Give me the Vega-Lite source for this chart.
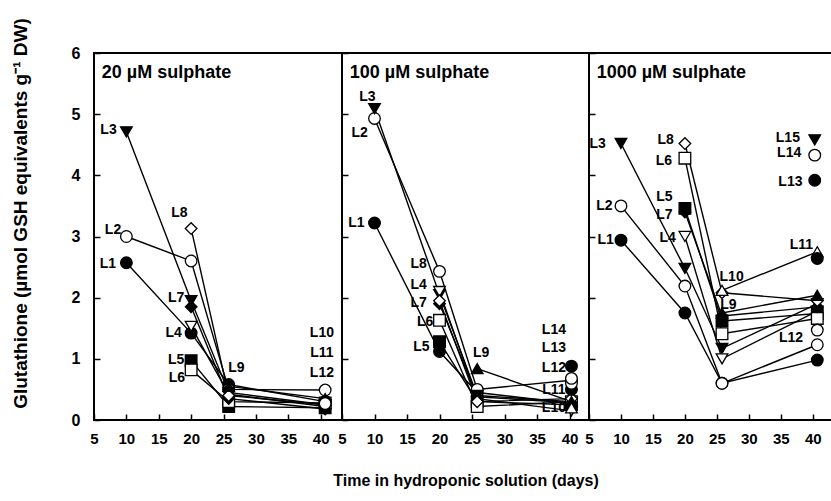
{
  "$schema": "https://vega.github.io/schema/vega-lite/v6.json",
  "padding": {"left": 9, "top": 16, "right": 0, "bottom": 0},
  "background": "white",
  "spacing": 0,
  "bounds": "flush",
  "config": {
    "view": {"stroke": "black", "strokeWidth": 2},
    "font": "Liberation Sans",
    "axis": {
      "domain": false, "grid": false, "tickColor": "black", "tickWidth": 1.5, "tickSize": -6, "tickCount": 12,
      "labelColor": "black", "labelFont": "Liberation Sans", "labelFontWeight": "bold",
      "labelFlush": false, "labelOverlap": false, "labelBound": false, "format": "d",
      "titleFont": "Liberation Sans", "titleFontWeight": "bold", "titleColor": "black"
    }
  },
  "datasets": {
    "points": [
      {"p": "20", "leaf": "L1", "day": 10, "v": 2.57}, {"p": "20", "leaf": "L1", "day": 20, "v": 1.42}, {"p": "20", "leaf": "L1", "day": 25.8, "v": 0.58}, {"p": "20", "leaf": "L1", "day": 40.7, "v": 0.3},
      {"p": "20", "leaf": "L2", "day": 10, "v": 3.0}, {"p": "20", "leaf": "L2", "day": 20, "v": 2.6}, {"p": "20", "leaf": "L2", "day": 25.8, "v": 0.5}, {"p": "20", "leaf": "L2", "day": 40.7, "v": 0.49},
      {"p": "20", "leaf": "L3", "day": 10, "v": 4.71}, {"p": "20", "leaf": "L3", "day": 20, "v": 1.95}, {"p": "20", "leaf": "L3", "day": 25.8, "v": 0.45}, {"p": "20", "leaf": "L3", "day": 40.7, "v": 0.25},
      {"p": "20", "leaf": "L4", "day": 20, "v": 1.53}, {"p": "20", "leaf": "L4", "day": 25.8, "v": 0.42}, {"p": "20", "leaf": "L4", "day": 40.7, "v": 0.22},
      {"p": "20", "leaf": "L5", "day": 20, "v": 0.97}, {"p": "20", "leaf": "L5", "day": 25.8, "v": 0.22}, {"p": "20", "leaf": "L5", "day": 40.7, "v": 0.2},
      {"p": "20", "leaf": "L6", "day": 20, "v": 0.82}, {"p": "20", "leaf": "L6", "day": 25.8, "v": 0.3}, {"p": "20", "leaf": "L6", "day": 40.7, "v": 0.28},
      {"p": "20", "leaf": "L7", "day": 20, "v": 1.85}, {"p": "20", "leaf": "L7", "day": 25.8, "v": 0.35}, {"p": "20", "leaf": "L7", "day": 40.7, "v": 0.18},
      {"p": "20", "leaf": "L8", "day": 20, "v": 3.13}, {"p": "20", "leaf": "L8", "day": 25.8, "v": 0.4}, {"p": "20", "leaf": "L8", "day": 40.7, "v": 0.25},
      {"p": "20", "leaf": "L9", "day": 25.8, "v": 0.55}, {"p": "20", "leaf": "L9", "day": 40.7, "v": 0.35},
      {"p": "20", "leaf": "L10", "day": 40.7, "v": 0.32}, {"p": "20", "leaf": "L11", "day": 40.7, "v": 0.3}, {"p": "20", "leaf": "L12", "day": 40.7, "v": 0.27},

      {"p": "100", "leaf": "L1", "day": 10, "v": 3.22}, {"p": "100", "leaf": "L1", "day": 20, "v": 1.12}, {"p": "100", "leaf": "L1", "day": 25.8, "v": 0.45}, {"p": "100", "leaf": "L1", "day": 40.3, "v": 0.27},
      {"p": "100", "leaf": "L2", "day": 10, "v": 4.93}, {"p": "100", "leaf": "L2", "day": 20, "v": 2.43}, {"p": "100", "leaf": "L2", "day": 25.8, "v": 0.5}, {"p": "100", "leaf": "L2", "day": 40.3, "v": 0.65},
      {"p": "100", "leaf": "L3", "day": 10, "v": 5.09}, {"p": "100", "leaf": "L3", "day": 20, "v": 2.05}, {"p": "100", "leaf": "L3", "day": 25.8, "v": 0.4}, {"p": "100", "leaf": "L3", "day": 40.3, "v": 0.3},
      {"p": "100", "leaf": "L4", "day": 20, "v": 2.1}, {"p": "100", "leaf": "L4", "day": 25.8, "v": 0.35}, {"p": "100", "leaf": "L4", "day": 40.3, "v": 0.15},
      {"p": "100", "leaf": "L5", "day": 20, "v": 1.28}, {"p": "100", "leaf": "L5", "day": 25.8, "v": 0.3}, {"p": "100", "leaf": "L5", "day": 40.3, "v": 0.25},
      {"p": "100", "leaf": "L6", "day": 20, "v": 1.63}, {"p": "100", "leaf": "L6", "day": 25.8, "v": 0.22}, {"p": "100", "leaf": "L6", "day": 40.3, "v": 0.3},
      {"p": "100", "leaf": "L7", "day": 20, "v": 1.9}, {"p": "100", "leaf": "L7", "day": 25.8, "v": 0.38}, {"p": "100", "leaf": "L7", "day": 40.3, "v": 0.28},
      {"p": "100", "leaf": "L8", "day": 20, "v": 1.95}, {"p": "100", "leaf": "L8", "day": 25.8, "v": 0.3}, {"p": "100", "leaf": "L8", "day": 40.3, "v": 0.35},
      {"p": "100", "leaf": "L9", "day": 25.8, "v": 0.84}, {"p": "100", "leaf": "L9", "day": 40.3, "v": 0.3},
      {"p": "100", "leaf": "L10", "day": 40.3, "v": 0.2}, {"p": "100", "leaf": "L11", "day": 40.3, "v": 0.5}, {"p": "100", "leaf": "L12", "day": 40.3, "v": 0.6}, {"p": "100", "leaf": "L13", "day": 40.3, "v": 0.88}, {"p": "100", "leaf": "L14", "day": 40.3, "v": 0.68},

      {"p": "1000", "leaf": "L1", "day": 10, "v": 2.94}, {"p": "1000", "leaf": "L1", "day": 20, "v": 1.75}, {"p": "1000", "leaf": "L1", "day": 25.8, "v": 0.6}, {"p": "1000", "leaf": "L1", "day": 40.7, "v": 0.98},
      {"p": "1000", "leaf": "L2", "day": 10, "v": 3.5}, {"p": "1000", "leaf": "L2", "day": 20, "v": 2.19}, {"p": "1000", "leaf": "L2", "day": 25.8, "v": 0.6}, {"p": "1000", "leaf": "L2", "day": 40.7, "v": 1.23},
      {"p": "1000", "leaf": "L3", "day": 10, "v": 4.52}, {"p": "1000", "leaf": "L3", "day": 20, "v": 2.48}, {"p": "1000", "leaf": "L3", "day": 25.8, "v": 1.17}, {"p": "1000", "leaf": "L3", "day": 40.7, "v": 1.9},
      {"p": "1000", "leaf": "L4", "day": 20, "v": 3.0}, {"p": "1000", "leaf": "L4", "day": 25.8, "v": 1.0}, {"p": "1000", "leaf": "L4", "day": 40.7, "v": 1.78},
      {"p": "1000", "leaf": "L5", "day": 20, "v": 3.46}, {"p": "1000", "leaf": "L5", "day": 25.8, "v": 1.62}, {"p": "1000", "leaf": "L5", "day": 40.7, "v": 1.74},
      {"p": "1000", "leaf": "L6", "day": 20, "v": 4.28}, {"p": "1000", "leaf": "L6", "day": 25.8, "v": 1.41}, {"p": "1000", "leaf": "L6", "day": 40.7, "v": 1.66},
      {"p": "1000", "leaf": "L7", "day": 20, "v": 3.4}, {"p": "1000", "leaf": "L7", "day": 25.8, "v": 1.7}, {"p": "1000", "leaf": "L7", "day": 40.7, "v": 1.85},
      {"p": "1000", "leaf": "L8", "day": 20, "v": 4.52}, {"p": "1000", "leaf": "L8", "day": 25.8, "v": 2.08}, {"p": "1000", "leaf": "L8", "day": 40.7, "v": 1.95},
      {"p": "1000", "leaf": "L9", "day": 25.8, "v": 1.75}, {"p": "1000", "leaf": "L9", "day": 40.7, "v": 2.04},
      {"p": "1000", "leaf": "L10", "day": 25.8, "v": 2.12}, {"p": "1000", "leaf": "L10", "day": 40.7, "v": 2.75},
      {"p": "1000", "leaf": "L11", "day": 40.7, "v": 2.64}, {"p": "1000", "leaf": "L12", "day": 40.7, "v": 1.47},
      {"p": "1000", "leaf": "L13", "day": 40.3, "v": 3.92}, {"p": "1000", "leaf": "L14", "day": 40.3, "v": 4.33}, {"p": "1000", "leaf": "L15", "day": 40.3, "v": 4.58}
    ],
    "labels": [
      {"p": "20", "t": "L3", "x": 7.24, "y": 4.74}, {"p": "20", "t": "L2", "x": 7.94, "y": 3.1}, {"p": "20", "t": "L1", "x": 7.16, "y": 2.55},
      {"p": "20", "t": "L8", "x": 18.2, "y": 3.38}, {"p": "20", "t": "L7", "x": 17.7, "y": 1.99}, {"p": "20", "t": "L4", "x": 17.3, "y": 1.42},
      {"p": "20", "t": "L5", "x": 17.7, "y": 0.98}, {"p": "20", "t": "L6", "x": 17.8, "y": 0.69}, {"p": "20", "t": "L9", "x": 27.0, "y": 0.85},
      {"p": "20", "t": "L10", "x": 40.2, "y": 1.42}, {"p": "20", "t": "L11", "x": 40.2, "y": 1.09}, {"p": "20", "t": "L12", "x": 40.2, "y": 0.77},
      {"p": "100", "t": "L3", "x": 8.9, "y": 5.28}, {"p": "100", "t": "L2", "x": 7.7, "y": 4.69}, {"p": "100", "t": "L1", "x": 7.2, "y": 3.22},
      {"p": "100", "t": "L8", "x": 16.8, "y": 2.55}, {"p": "100", "t": "L4", "x": 16.8, "y": 2.2}, {"p": "100", "t": "L7", "x": 16.8, "y": 1.91},
      {"p": "100", "t": "L6", "x": 17.8, "y": 1.61}, {"p": "100", "t": "L5", "x": 17.2, "y": 1.2}, {"p": "100", "t": "L9", "x": 26.4, "y": 1.09},
      {"p": "100", "t": "L14", "x": 37.6, "y": 1.47}, {"p": "100", "t": "L13", "x": 37.6, "y": 1.18}, {"p": "100", "t": "L12", "x": 37.6, "y": 0.85},
      {"p": "100", "t": "L11", "x": 37.6, "y": 0.49}, {"p": "100", "t": "L10", "x": 37.6, "y": 0.2},
      {"p": "1000", "t": "L3", "x": 6.36, "y": 4.52}, {"p": "1000", "t": "L2", "x": 7.4, "y": 3.5}, {"p": "1000", "t": "L1", "x": 7.6, "y": 2.94},
      {"p": "1000", "t": "L8", "x": 17.0, "y": 4.58}, {"p": "1000", "t": "L6", "x": 16.7, "y": 4.24}, {"p": "1000", "t": "L5", "x": 16.8, "y": 3.65},
      {"p": "1000", "t": "L7", "x": 16.8, "y": 3.35}, {"p": "1000", "t": "L4", "x": 17.3, "y": 2.97}, {"p": "1000", "t": "L10", "x": 27.3, "y": 2.34},
      {"p": "1000", "t": "L9", "x": 26.8, "y": 1.88}, {"p": "1000", "t": "L11", "x": 38.2, "y": 2.86}, {"p": "1000", "t": "L12", "x": 36.6, "y": 1.34},
      {"p": "1000", "t": "L15", "x": 36.1, "y": 4.61}, {"p": "1000", "t": "L14", "x": 36.3, "y": 4.36}, {"p": "1000", "t": "L13", "x": 36.5, "y": 3.89}
    ],
    "titles": [
      {"p": "20", "t": "20 µM sulphate"}, {"p": "100", "t": "100 µM sulphate"}, {"p": "1000", "t": "1000 µM sulphate"}
    ]
  },
  "hconcat": [
    {
      "width": 248, "height": 367,
      "layer": [
        {
          "data": {"name": "points"}, "transform": [{"filter": "datum.p === '20'"}],
          "mark": {"type": "line", "color": "black", "strokeWidth": 1.4},
          "encoding": {
            "x": {"field": "day", "type": "quantitative", "scale": {"domain": [5, 43.3], "nice": false},
              "axis": {"values": [5, 10, 15, 20, 25, 30, 35, 40], "tickCount": 12, "labelFontSize": 15, "labelPadding": 17, "labelOverlap": false, "title": null}},
            "y": {"field": "v", "type": "quantitative", "scale": {"domain": [0, 6], "nice": false},
              "axis": {"values": [0, 1, 2, 3, 4, 5, 6], "tickCount": 12, "labelFontSize": 16, "labelPadding": 20, "labelOverlap": false,
                "title": "Glutathione (µmol GSH equivalents g⁻¹ DW)", "titleFontSize": 19,
                "titleAngle": 270, "titleX": -74, "titleY": 160, "titleBaseline": "middle", "titleAlign": "center"}},
            "detail": {"field": "leaf"},
            "order": {"field": "day", "type": "quantitative"}
          }
        },
        {
          "data": {"name": "points"}, "transform": [{"filter": "datum.p === '20'"}],
          "mark": {"type": "point", "filled": true, "stroke": "black", "strokeWidth": 1.3, "opacity": 1, "size": 135},
          "encoding": {
            "x": {"field": "day", "type": "quantitative"},
            "y": {"field": "v", "type": "quantitative"},
            "shape": {"field": "leaf", "type": "nominal", "legend": null,
              "scale": {"domain": ["L1","L2","L3","L4","L5","L6","L7","L8","L9","L10","L11","L12","L13","L14","L15"],
                "range": ["circle","circle","triangle-down","triangle-down","square","square","diamond","diamond","triangle-up","triangle-up","circle","circle","circle","circle","triangle-down"]}},
            "fill": {"field": "leaf", "type": "nominal", "legend": null,
              "scale": {"domain": ["L1","L2","L3","L4","L5","L6","L7","L8","L9","L10","L11","L12","L13","L14","L15"],
                "range": ["black","white","black","white","black","white","black","white","black","white","black","white","black","white","black"]}}
          }
        },
        {
          "data": {"name": "labels"}, "transform": [{"filter": "datum.p === '20'"}],
          "mark": {"type": "text", "font": "Liberation Sans", "fontWeight": "bold", "fontSize": 14, "color": "black", "align": "center", "baseline": "middle"},
          "encoding": {"x": {"field": "x", "type": "quantitative"}, "y": {"field": "y", "type": "quantitative"}, "text": {"field": "t"}}
        },
        {
          "data": {"name": "titles"}, "transform": [{"filter": "datum.p === '20'"}],
          "mark": {"type": "text", "font": "Liberation Sans", "fontWeight": "bold", "fontSize": 18, "color": "black", "align": "left", "baseline": "middle"},
          "encoding": {"x": {"datum": 6.2}, "y": {"datum": 5.68}, "text": {"field": "t"}}
        }
      ]
    },
    {
      "width": 247, "height": 367,
      "layer": [
        {
          "data": {"name": "points"}, "transform": [{"filter": "datum.p === '100'"}],
          "mark": {"type": "line", "color": "black", "strokeWidth": 1.4},
          "encoding": {
            "x": {"field": "day", "type": "quantitative", "scale": {"domain": [5, 43], "nice": false},
              "axis": {"values": [5, 10, 15, 20, 25, 30, 35, 40], "tickCount": 12, "labelFontSize": 15, "labelPadding": 17, "labelOverlap": false,
                "title": "Time in hydroponic solution (days)", "titleFontSize": 16, "titlePadding": 26}},
            "y": {"field": "v", "type": "quantitative", "scale": {"domain": [0, 6], "nice": false},
              "axis": {"values": [0, 1, 2, 3, 4, 5, 6], "tickCount": 12, "labels": false, "title": null}},
            "detail": {"field": "leaf"},
            "order": {"field": "day", "type": "quantitative"}
          }
        },
        {
          "data": {"name": "points"}, "transform": [{"filter": "datum.p === '100'"}],
          "mark": {"type": "point", "filled": true, "stroke": "black", "strokeWidth": 1.3, "opacity": 1, "size": 135},
          "encoding": {
            "x": {"field": "day", "type": "quantitative"},
            "y": {"field": "v", "type": "quantitative"},
            "shape": {"field": "leaf", "type": "nominal", "legend": null,
              "scale": {"domain": ["L1","L2","L3","L4","L5","L6","L7","L8","L9","L10","L11","L12","L13","L14","L15"],
                "range": ["circle","circle","triangle-down","triangle-down","square","square","diamond","diamond","triangle-up","triangle-up","circle","circle","circle","circle","triangle-down"]}},
            "fill": {"field": "leaf", "type": "nominal", "legend": null,
              "scale": {"domain": ["L1","L2","L3","L4","L5","L6","L7","L8","L9","L10","L11","L12","L13","L14","L15"],
                "range": ["black","white","black","white","black","white","black","white","black","white","black","white","black","white","black"]}}
          }
        },
        {
          "data": {"name": "labels"}, "transform": [{"filter": "datum.p === '100'"}],
          "mark": {"type": "text", "font": "Liberation Sans", "fontWeight": "bold", "fontSize": 14, "color": "black", "align": "center", "baseline": "middle"},
          "encoding": {"x": {"field": "x", "type": "quantitative"}, "y": {"field": "y", "type": "quantitative"}, "text": {"field": "t"}}
        },
        {
          "data": {"name": "titles"}, "transform": [{"filter": "datum.p === '100'"}],
          "mark": {"type": "text", "font": "Liberation Sans", "fontWeight": "bold", "fontSize": 18, "color": "black", "align": "left", "baseline": "middle"},
          "encoding": {"x": {"datum": 6.2}, "y": {"datum": 5.68}, "text": {"field": "t"}}
        }
      ]
    },
    {
      "width": 243, "height": 367,
      "layer": [
        {
          "data": {"name": "points"}, "transform": [{"filter": "datum.p === '1000'"}],
          "mark": {"type": "line", "color": "black", "strokeWidth": 1.4},
          "encoding": {
            "x": {"field": "day", "type": "quantitative", "scale": {"domain": [5, 43], "nice": false},
              "axis": {"values": [5, 10, 15, 20, 25, 30, 35, 40], "tickCount": 12, "labelFontSize": 15, "labelPadding": 17, "labelOverlap": false, "title": null}},
            "y": {"field": "v", "type": "quantitative", "scale": {"domain": [0, 6], "nice": false},
              "axis": {"values": [0, 1, 2, 3, 4, 5, 6], "tickCount": 12, "labels": false, "title": null}},
            "detail": {"field": "leaf"},
            "order": {"field": "day", "type": "quantitative"}
          }
        },
        {
          "data": {"name": "points"}, "transform": [{"filter": "datum.p === '1000'"}],
          "mark": {"type": "point", "filled": true, "stroke": "black", "strokeWidth": 1.3, "opacity": 1, "size": 135},
          "encoding": {
            "x": {"field": "day", "type": "quantitative"},
            "y": {"field": "v", "type": "quantitative"},
            "shape": {"field": "leaf", "type": "nominal", "legend": null,
              "scale": {"domain": ["L1","L2","L3","L4","L5","L6","L7","L8","L9","L10","L11","L12","L13","L14","L15"],
                "range": ["circle","circle","triangle-down","triangle-down","square","square","diamond","diamond","triangle-up","triangle-up","circle","circle","circle","circle","triangle-down"]}},
            "fill": {"field": "leaf", "type": "nominal", "legend": null,
              "scale": {"domain": ["L1","L2","L3","L4","L5","L6","L7","L8","L9","L10","L11","L12","L13","L14","L15"],
                "range": ["black","white","black","white","black","white","black","white","black","white","black","white","black","white","black"]}}
          }
        },
        {
          "data": {"name": "labels"}, "transform": [{"filter": "datum.p === '1000'"}],
          "mark": {"type": "text", "font": "Liberation Sans", "fontWeight": "bold", "fontSize": 14, "color": "black", "align": "center", "baseline": "middle"},
          "encoding": {"x": {"field": "x", "type": "quantitative"}, "y": {"field": "y", "type": "quantitative"}, "text": {"field": "t"}}
        },
        {
          "data": {"name": "titles"}, "transform": [{"filter": "datum.p === '1000'"}],
          "mark": {"type": "text", "font": "Liberation Sans", "fontWeight": "bold", "fontSize": 18, "color": "black", "align": "left", "baseline": "middle"},
          "encoding": {"x": {"datum": 6.2}, "y": {"datum": 5.68}, "text": {"field": "t"}}
        }
      ]
    }
  ]
}
